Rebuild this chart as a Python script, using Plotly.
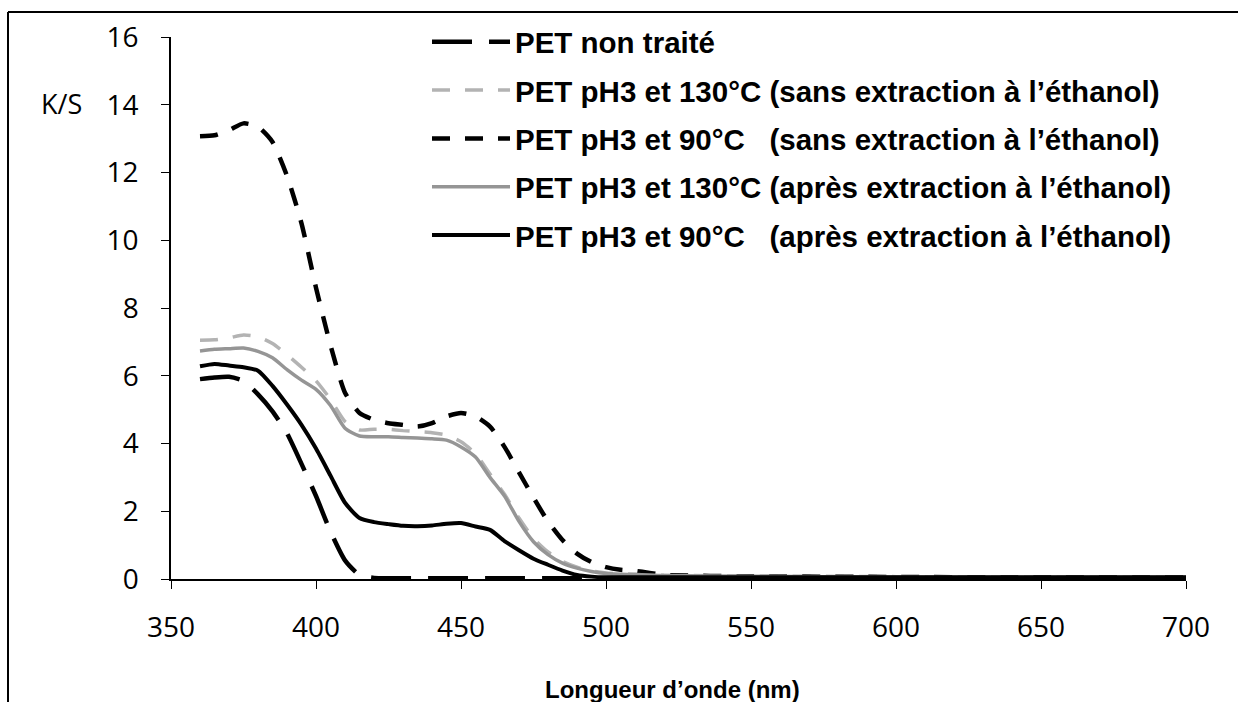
import plotly.graph_objects as go

# Wavelength (nm)
wavelength = [360, 365, 370, 375, 380, 385, 390, 395, 400, 405, 410, 415, 420, 425, 430,
              435, 440, 445, 450, 455, 460, 465, 470, 475, 480, 485, 490, 495, 500, 505,
              510, 515, 520, 550, 600, 650, 700]

# K/S values per series
pet_non_traite = [5.90, 5.95, 5.97, 5.85, 5.45, 4.95, 4.30, 3.40, 2.45, 1.40, 0.55, 0.12, 0.03,
                  0.02, 0.02, 0.02, 0.02, 0.02, 0.02, 0.02, 0.02, 0.02, 0.02, 0.02, 0.02, 0.02,
                  0.02, 0.02, 0.02, 0.02, 0.02, 0.02, 0.02, 0.02, 0.02, 0.02, 0.02]
pet_130_sans = [7.05, 7.06, 7.12, 7.20, 7.15, 6.95, 6.62, 6.25, 5.85, 5.30, 4.65, 4.40, 4.42,
                4.42, 4.38, 4.35, 4.32, 4.25, 4.05, 3.70, 3.10, 2.50, 1.80, 1.20, 0.80, 0.52,
                0.35, 0.24, 0.18, 0.15, 0.14, 0.13, 0.11, 0.09, 0.07, 0.06, 0.06]
pet_90_sans = [13.07, 13.10, 13.25, 13.45, 13.35, 12.90, 11.90, 10.50, 8.60, 6.90, 5.50, 4.90,
               4.70, 4.60, 4.55, 4.50, 4.60, 4.80, 4.90, 4.80, 4.50, 3.90, 3.15, 2.40, 1.70,
               1.15, 0.75, 0.50, 0.35, 0.27, 0.24, 0.18, 0.12, 0.08, 0.06, 0.05, 0.05]
pet_130_apres = [6.73, 6.78, 6.80, 6.82, 6.72, 6.53, 6.18, 5.87, 5.60, 5.12, 4.45, 4.22, 4.20,
                 4.20, 4.18, 4.16, 4.14, 4.10, 3.90, 3.60, 3.00, 2.45, 1.70, 1.10, 0.72, 0.47,
                 0.32, 0.22, 0.16, 0.14, 0.13, 0.12, 0.10, 0.08, 0.06, 0.05, 0.05]
pet_90_apres = [6.28, 6.35, 6.30, 6.25, 6.15, 5.70, 5.15, 4.55, 3.85, 3.05, 2.25, 1.80, 1.68,
                1.62, 1.57, 1.56, 1.58, 1.63, 1.65, 1.55, 1.45, 1.12, 0.85, 0.60, 0.42, 0.25,
                0.12, 0.07, 0.05, 0.05, 0.05, 0.05, 0.05, 0.05, 0.05, 0.05, 0.05]

series_names = [
    "PET non traité",
    "PET pH3 et 130°C (sans extraction à l’éthanol)",
    "PET pH3 et 90°C   (sans extraction à l’éthanol)",
    "PET pH3 et 130°C (après extraction à l’éthanol)",
    "PET pH3 et 90°C   (après extraction à l’éthanol)",
]
series_values = [pet_non_traite, pet_130_sans, pet_90_sans, pet_130_apres, pet_90_apres]
series_styles = [
    dict(color="black", width=4.5, dash="40px,17px"),
    dict(color="#b3b3b3", width=3.5, dash="18px,15px"),
    dict(color="black", width=4.5, dash="18px,15px"),
    dict(color="#959595", width=3.5, dash="solid"),
    dict(color="black", width=4, dash="solid"),
]

fig = go.Figure()
for i, (name, vals, st) in enumerate(zip(series_names, series_values, series_styles)):
    fig.add_trace(go.Scatter(
        x=wavelength, y=vals, mode="lines", name=name,
        line=dict(color=st["color"], width=st["width"], dash=st["dash"],
                  shape="spline", smoothing=0.6),
        legendgroup=f"g{i}",
    ))

L, R, T, B = 171, 52, 37, 123
W, H = 1238, 702
pw, ph = W - L - R, H - T - B

def px_x(p):
    return (p - L) / pw

def px_y(p):
    return (H - B - p) / ph

tick_font = dict(family="Open Sans, DejaVu Sans, sans-serif", size=28, color="black")

fig.update_layout(
    width=W, height=H,
    margin=dict(l=L, r=R, t=T, b=B),
    paper_bgcolor="white", plot_bgcolor="white",
    showlegend=True,
    legend=dict(
        x=px_x(427), y=px_y(16), xanchor="left", yanchor="top",
        font=dict(family="Liberation Sans, Arial, sans-serif", size=29.5, color="black",
                  weight="bold"),
        itemwidth=78, tracegroupgap=7, bgcolor="rgba(0,0,0,0)",
        traceorder="grouped",
    ),
    xaxis=dict(
        range=[350, 700], tickmode="array", tickvals=[350, 400, 450, 500, 550, 600, 650, 700],
        showline=True, linecolor="black", linewidth=1.5, ticks="outside", ticklen=8,
        tickcolor="black", tickfont=tick_font, showgrid=False, zeroline=False,
        ticklabelstandoff=15,
    ),
    yaxis=dict(
        range=[0, 16], tickmode="array", tickvals=[0, 2, 4, 6, 8, 10, 12, 14, 16],
        showline=True, linecolor="black", linewidth=1.5, ticks="outside", ticklen=8,
        tickcolor="black", tickfont=tick_font, showgrid=False, zeroline=False,
        ticklabelstandoff=17,
    ),
    annotations=[
        dict(text="<b>Longueur d’onde (nm)</b>", xref="paper", yref="paper",
             x=px_x(672), y=px_y(689), xanchor="center", yanchor="middle", showarrow=False,
             font=dict(family="Liberation Sans, Arial, sans-serif", size=24, color="black")),
        dict(text="K/S", xref="paper", yref="paper",
             x=px_x(61), y=px_y(103), xanchor="center", yanchor="middle", showarrow=False,
             font=dict(family="Open Sans, DejaVu Sans, sans-serif", size=27, color="black")),
    ],
    shapes=[
        dict(type="line", xref="paper", yref="paper", x0=px_x(8), x1=px_x(8),
             y0=px_y(12), y1=px_y(702), line=dict(color="black", width=2)),
        dict(type="line", xref="paper", yref="paper", x0=px_x(8), x1=px_x(1238),
             y0=px_y(12), y1=px_y(12), line=dict(color="black", width=2)),
    ],
)

fig.write_html("out.html", config={"displayModeBar": False},
               post_script="document.body.style.margin='0';")
